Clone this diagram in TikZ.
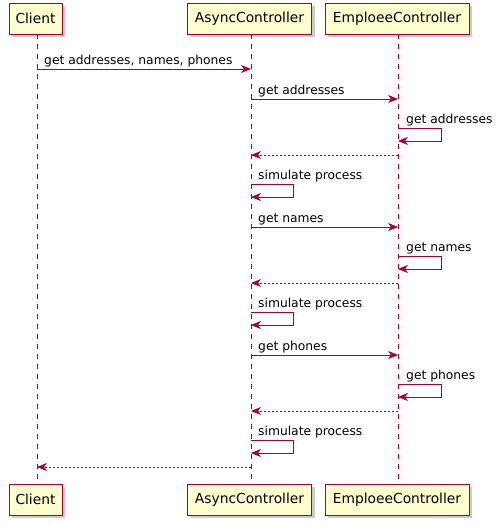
\documentclass[tikz,border=0pt]{standalone}
\usepackage{fontspec}
\setmainfont{DejaVu Sans}
\usetikzlibrary{arrows.meta,shadows}
\definecolor{pred}{HTML}{A80036}
\definecolor{pfill}{HTML}{FEFECE}
\begin{document}
\begin{tikzpicture}[x=1pt,y=-1pt,
 part/.style={draw=pred, fill=pfill, line width=1pt, minimum height=31pt, inner sep=0pt,
   font=\fontsize{13.8}{16}\selectfont,
   drop shadow={shadow xshift=3pt, shadow yshift=-3pt, opacity=0.2, fill=black}},
 life/.style={draw=pred, line width=0.8pt, dash pattern=on 5pt off 5pt},
 msg/.style={draw=pred, line width=0.8pt, -{Stealth[length=10pt,width=8pt,inset=3pt]}},
 ret/.style={msg, dash pattern=on 2pt off 2pt},
 lbl/.style={anchor=base west, inner sep=0pt, font=\fontsize{12.3}{14}\selectfont}]
\useasboundingbox (0,0) rectangle (503,525);

% participants
\node[part, minimum width=53pt]  (ct) at (35.5,18.5) {Client};
\node[part, minimum width=124pt] (at) at (249.5,18.5) {AsyncController};
\node[part, minimum width=144pt] (et) at (397,18.5) {EmploeeController};
\node[part, minimum width=53pt]  (cb) at (35.5,499.5) {Client};
\node[part, minimum width=124pt] (ab) at (249.5,499.5) {AsyncController};
\node[part, minimum width=144pt] (eb) at (397,499.5) {EmploeeController};

% lifeline coordinates
\coordinate (cT) at (37,34);  \coordinate (cB) at (37,484);
\coordinate (aT) at (251,34); \coordinate (aB) at (251,484);
\coordinate (eT) at (398,34); \coordinate (eB) at (398,484);
\draw[life] (cT) -- (cB);
\draw[life] (aT) -- (aB);
\draw[life] (eT) -- (eB);

% 1: client -> async
\coordinate (m1a) at (37,69); \coordinate (m1b) at (251,69);
\draw[msg] (m1a) -- (m1b);
\node[lbl] (l1) at (44,64) {get addresses, names, phones};

% addresses
\coordinate (m2a) at (251,99); \coordinate (m2b) at (398,99);
\draw[msg] (m2a) -- (m2b);
\node[lbl] (l2) at (258,94) {get addresses};
\coordinate (s2a) at (398,128); \coordinate (s2b) at (398,141);
\draw[msg] (s2a) -- ++(43,0) |- (s2b);
\node[lbl] (l3) at (406,123) {get addresses};
\coordinate (r2a) at (398,155); \coordinate (r2b) at (251,155);
\draw[ret] (r2a) -- (r2b);
\coordinate (p2a) at (251,184); \coordinate (p2b) at (251,197);
\draw[msg] (p2a) -- ++(42,0) |- (p2b);
\node[lbl] (l4) at (258,179) {simulate process};

% names
\coordinate (m3a) at (251,227); \coordinate (m3b) at (398,227);
\draw[msg] (m3a) -- (m3b);
\node[lbl] (l5) at (258,222) {get names};
\coordinate (s3a) at (398,256); \coordinate (s3b) at (398,269);
\draw[msg] (s3a) -- ++(43,0) |- (s3b);
\node[lbl] (l6) at (406,251) {get names};
\coordinate (r3a) at (398,283); \coordinate (r3b) at (251,283);
\draw[ret] (r3a) -- (r3b);
\coordinate (p3a) at (251,312); \coordinate (p3b) at (251,325);
\draw[msg] (p3a) -- ++(42,0) |- (p3b);
\node[lbl] (l7) at (258,307) {simulate process};

% phones
\coordinate (m4a) at (251,355); \coordinate (m4b) at (398,355);
\draw[msg] (m4a) -- (m4b);
\node[lbl] (l8) at (258,350) {get phones};
\coordinate (s4a) at (398,384); \coordinate (s4b) at (398,397);
\draw[msg] (s4a) -- ++(43,0) |- (s4b);
\node[lbl] (l9) at (406,379) {get phones};
\coordinate (r4a) at (398,411); \coordinate (r4b) at (251,411);
\draw[ret] (r4a) -- (r4b);
\coordinate (p4a) at (251,440); \coordinate (p4b) at (251,453);
\draw[msg] (p4a) -- ++(42,0) |- (p4b);
\node[lbl] (l10) at (258,435) {simulate process};

% final return
\coordinate (r5a) at (251,467); \coordinate (r5b) at (37,467);
\draw[ret] (r5a) -- (r5b);
\end{tikzpicture}
\end{document}
